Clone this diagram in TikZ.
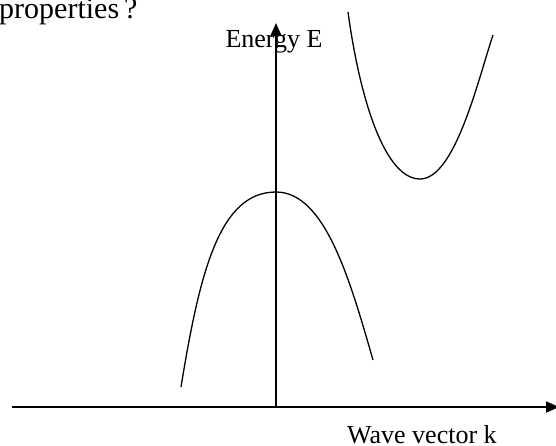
\documentclass[tikz,border=0pt]{standalone}
\usepackage{fontspec}
\setmainfont{Liberation Serif}
\usetikzlibrary{arrows.meta}

\begin{document}
\begin{tikzpicture}[x=1pt, y=-1pt,
    axis/.style={-{Triangle[length=13pt, width=11pt]}, line width=1.8pt},
    band/.style={line width=1.3pt},
    lbl/.style={font=\fontsize{26}{30}\selectfont, inner sep=0pt}
  ]
  \useasboundingbox (0,0) rectangle (556,445);
  \node[lbl, anchor=base west, font=\fontsize{30}{34}\selectfont] (quest) at (-1,18) {properties\,?};
  \node[lbl, anchor=base] (elabel) at (274,47) {Energy E};
  \node[lbl, anchor=base west] (klabel) at (347,443) {Wave vector k};
  \coordinate (kstart) at (12,407);
  \coordinate (kend) at (559,407);
  \coordinate (origin) at (276,407);
  \coordinate (etop) at (276,23);
  \coordinate (vbtop) at (276,192);
  \coordinate (cbmin) at (420,179);
  \draw[axis] (kstart) -- (kend);
  \draw[axis] (origin) -- (etop);
  \draw[band] (181,387) .. controls (200,270) and (220,192) .. (vbtop)
                        .. controls (325,192) and (350,280) .. (373,360);
  \draw[band] (348,12) .. controls (360,100) and (385,179) .. (cbmin)
                       .. controls (455,179) and (478,80) .. (493,35);
\end{tikzpicture}
\end{document}
